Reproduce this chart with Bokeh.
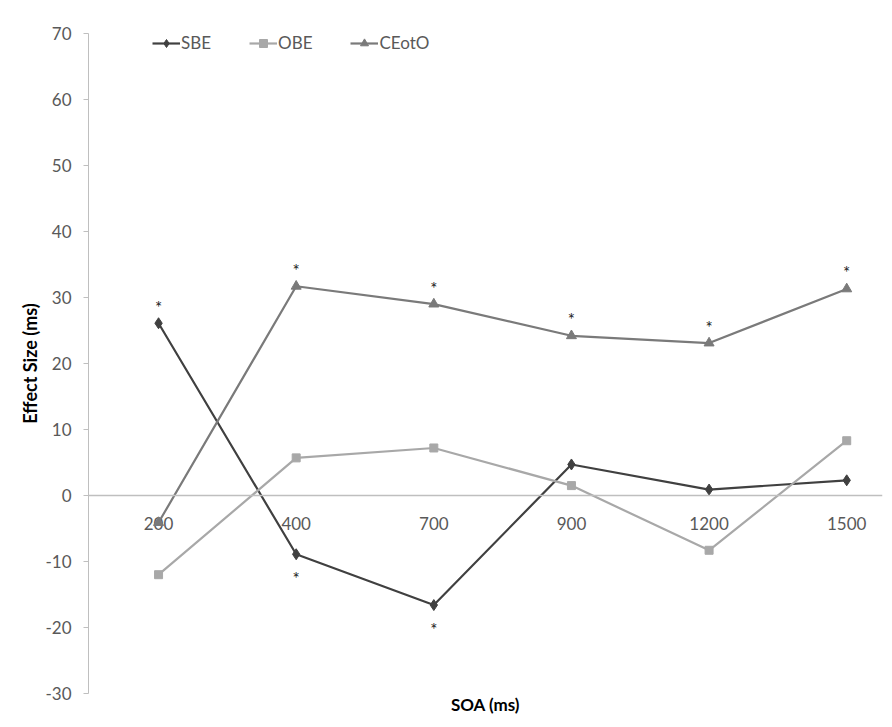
from bokeh.plotting import figure
from bokeh.models import Span, FixedTicker, Range1d, Legend, LegendItem, PrintfTickFormatter
from bokeh.core.properties import value
from bokeh.embed import file_html
from bokeh.resources import INLINE

categories = ["200", "400", "700", "900", "1200", "1500"]
sbe = [26.1, -8.9, -16.6, 4.7, 0.9, 2.3]
obe = [-12.0, 5.7, 7.2, 1.5, -8.3, 8.3]
ceoto = [-4.1, 31.7, 29.0, 24.2, 23.1, 31.3]
# significance markers: "above", "below" or ""
sbe_sig = ["above", "below", "below", "", "", ""]
ceoto_sig = ["", "above", "above", "above", "above", "above"]
y_ticks = [-30, -20, -10, 0, 10, 20, 30, 40, 50, 60, 70]

FONT = "Lato"
TXT = "#595959"
AX = "#bfbfbf"
C_SBE = "#404040"
C_OBE = "#a8a8a8"
C_CE = "#7a7a7a"

xi = list(range(len(categories)))

p = figure(width=884, height=719, output_backend="svg", toolbar_location=None,
           x_range=Range1d(-0.509, 5.26), y_range=Range1d(-30, 70),
           min_border_left=88, min_border_top=33, min_border_right=2,
           min_border_bottom=26)
p.outline_line_color = None
p.xgrid.visible = False
p.ygrid.visible = False
p.background_fill_color = "white"
p.border_fill_color = "white"

# y axis
p.yaxis.ticker = FixedTicker(ticks=y_ticks)
p.yaxis.formatter = PrintfTickFormatter(format="%d")
p.yaxis.axis_line_color = AX
p.yaxis.major_tick_line_color = AX
p.yaxis.major_tick_out = 5
p.yaxis.major_tick_in = 0
p.yaxis.minor_tick_line_color = None
p.yaxis.major_label_text_font = FONT
p.yaxis.major_label_text_font_size = "17px"
p.yaxis.major_label_text_color = TXT
p.yaxis.major_label_standoff = 12
p.yaxis.axis_label = "Effect Size (ms)"
p.yaxis.axis_label_text_font = FONT
p.yaxis.axis_label_text_font_style = "bold"
p.yaxis.axis_label_text_font_size = "18px"
p.yaxis.axis_label_text_color = "#000000"
p.yaxis.axis_label_standoff = 1

# x axis: only the title; category labels are drawn at the zero line
p.xaxis.ticker = FixedTicker(ticks=[])
p.xaxis.axis_line_color = None
p.xaxis.major_tick_line_color = None
p.xaxis.minor_tick_line_color = None
p.xaxis.major_tick_out = 0
p.xaxis.major_label_standoff = 0
p.xaxis.axis_label = "SOA (ms)"
p.xaxis.axis_label_text_font = FONT
p.xaxis.axis_label_text_font_style = "bold"
p.xaxis.axis_label_text_font_size = "17px"
p.xaxis.axis_label_text_color = "#000000"
p.xaxis.axis_label_standoff = 0

p.add_layout(Span(location=0, dimension="width", line_color=AX, line_width=1.5))

p.text(x=xi, y=[0] * len(xi), text=categories, y_offset=28,
       text_font=value(FONT), text_font_size="17px", text_color=TXT,
       text_align="center", text_baseline="middle")

l1 = p.line(xi, sbe, line_color=C_SBE, line_width=2.2)
m1 = p.scatter(xi, sbe, marker="diamond", size=11, fill_color=C_SBE, line_color=C_SBE)
l2 = p.line(xi, obe, line_color=C_OBE, line_width=2.2)
m2 = p.scatter(xi, obe, marker="square", size=8, fill_color=C_OBE, line_color=C_OBE)
l3 = p.line(xi, ceoto, line_color=C_CE, line_width=2.2)
m3 = p.scatter(xi, ceoto, marker="triangle", size=10, fill_color=C_CE, line_color=C_CE)

# significance asterisks
above_x, above_y, below_x, below_y = [], [], [], []
for series, sig in ((sbe, sbe_sig), (ceoto, ceoto_sig)):
    for i, s in enumerate(sig):
        if s == "above":
            above_x.append(i); above_y.append(series[i])
        elif s == "below":
            below_x.append(i); below_y.append(series[i])
p.text(x=above_x, y=above_y, text=["*"] * len(above_x), y_offset=-16,
       text_font=value(FONT), text_font_size="17px", text_color="#222222",
       text_align="center", text_baseline="middle")
p.text(x=below_x, y=below_y, text=["*"] * len(below_x), y_offset=24,
       text_font=value(FONT), text_font_size="17px", text_color="#222222",
       text_align="center", text_baseline="middle")

legend = Legend(items=[LegendItem(label="SBE", renderers=[l1, m1]),
                       LegendItem(label="OBE", renderers=[l2, m2]),
                       LegendItem(label="CEotO", renderers=[l3, m3])],
                location=(64, 640), orientation="horizontal",
                glyph_width=28, glyph_height=20, label_standoff=1, spacing=38,
                padding=0, margin=0, border_line_color=None,
                background_fill_alpha=0,
                label_text_font=FONT, label_text_font_size="17px",
                label_text_color=TXT)
p.add_layout(legend, "center")

open("out.html", "w").write(file_html(p, INLINE))
